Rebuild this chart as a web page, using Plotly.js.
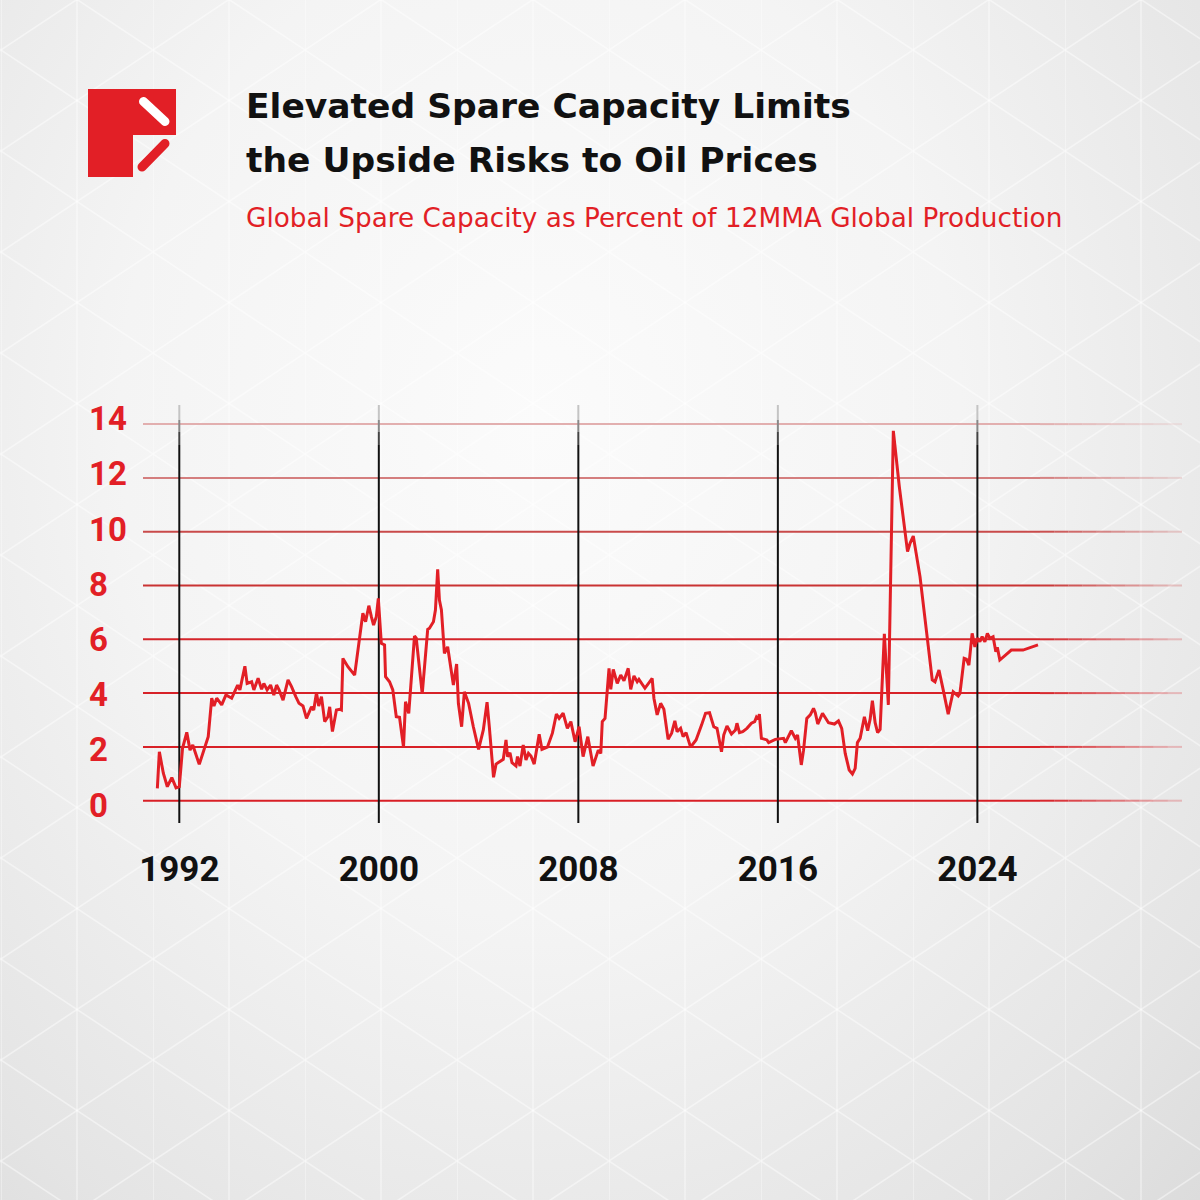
<!DOCTYPE html>
<html>
<head>
<meta charset="utf-8">
<script src="https://cdn.plot.ly/plotly-3.0.1.min.js"></script>
<style>
  html, body { margin: 0; padding: 0; }
  body {
    width: 1200px; height: 1200px; overflow: hidden;
    background-color: #efefef;
    background-image:
      url("data:image/svg+xml;utf8,%3Csvg xmlns='http://www.w3.org/2000/svg' width='152' height='101'%3E%3Cg stroke='%23ffffff' stroke-opacity='0.45' stroke-width='1.5' fill='none'%3E%3Cline x1='0' y1='0' x2='0' y2='101'/%3E%3Cline x1='76' y1='0' x2='76' y2='101'/%3E%3Cline x1='0' y1='0' x2='152' y2='101'/%3E%3Cline x1='0' y1='101' x2='152' y2='0'/%3E%3C/g%3E%3C/svg%3E"),
      radial-gradient(ellipse at 45% 35%, #fbfbfb 0%, #f4f4f4 45%, #e4e4e4 85%, #dcdcdc 100%);
    background-position: 1px 50px, 0 0;
    background-repeat: repeat, no-repeat;
  }
  #chart { width: 1200px; height: 1200px; }
</style>
</head>
<body>
<div id="chart"></div>
<script>
// ---------- DATA ----------
const years = [
  1991.12, 1991.2, 1991.36, 1991.52, 1991.7, 1991.87, 1992.0, 1992.13, 1992.3, 1992.43,
  1992.54, 1992.8, 1993.16, 1993.3, 1993.39, 1993.5, 1993.7, 1993.87, 1994.1, 1994.34,
  1994.43, 1994.63, 1994.72, 1994.9, 1994.99, 1995.16, 1995.3, 1995.39, 1995.52, 1995.66,
  1995.79, 1995.9, 1996.0, 1996.16, 1996.36, 1996.5, 1996.67, 1996.8, 1996.96, 1997.1,
  1997.3, 1997.39, 1997.5, 1997.59, 1997.7, 1997.83, 1997.96, 1998.03, 1998.14, 1998.3,
  1998.43, 1998.5, 1998.56, 1998.76, 1999.03, 1999.23, 1999.36, 1999.47, 1999.6, 1999.7,
  1999.79, 1999.9, 1999.98, 2000.1, 2000.23, 2000.27, 2000.43, 2000.56, 2000.7, 2000.83,
  2000.99, 2001.07, 2001.2, 2001.43, 2001.5, 2001.74, 2001.96, 2002.03, 2002.19, 2002.27,
  2002.36, 2002.43, 2002.51, 2002.63, 2002.76, 2002.99, 2003.12, 2003.19, 2003.32, 2003.43,
  2003.6, 2003.79, 2004.0, 2004.19, 2004.34, 2004.43, 2004.6, 2004.7, 2004.99, 2005.1,
  2005.16, 2005.26, 2005.34, 2005.5, 2005.56, 2005.66, 2005.79, 2005.9, 2006.0, 2006.1,
  2006.23, 2006.43, 2006.54, 2006.76, 2006.96, 2007.12, 2007.23, 2007.39, 2007.56, 2007.7,
  2007.87, 2008.03, 2008.19, 2008.38, 2008.59, 2008.8, 2008.9, 2008.96, 2009.07, 2009.23,
  2009.3, 2009.4, 2009.56, 2009.7, 2009.83, 2010.0, 2010.1, 2010.23, 2010.36, 2010.43,
  2010.67, 2010.96, 2011.03, 2011.16, 2011.3, 2011.43, 2011.6, 2011.74, 2011.87, 2011.96,
  2012.1, 2012.2, 2012.32, 2012.5, 2012.72, 2012.94, 2013.1, 2013.26, 2013.43, 2013.56,
  2013.74, 2013.83, 2013.96, 2014.14, 2014.3, 2014.36, 2014.46, 2014.59, 2014.76, 2014.94,
  2015.07, 2015.14, 2015.2, 2015.26, 2015.34, 2015.56, 2015.63, 2015.9, 2016.05, 2016.23,
  2016.3, 2016.54, 2016.7, 2016.79, 2016.94, 2017.03, 2017.16, 2017.3, 2017.43, 2017.5,
  2017.6, 2017.7, 2017.79, 2018.03, 2018.27, 2018.43, 2018.56, 2018.7, 2018.86, 2018.99,
  2019.1, 2019.19, 2019.3, 2019.47, 2019.6, 2019.7, 2019.79, 2019.9, 2020.0, 2020.1,
  2020.27, 2020.43, 2020.63, 2020.87, 2021.2, 2021.3, 2021.43, 2021.7, 2021.96, 2022.19,
  2022.3, 2022.46, 2022.63, 2022.83, 2022.94, 2023.03, 2023.23, 2023.3, 2023.47, 2023.56,
  2023.66, 2023.79, 2023.9, 2024.0, 2024.1, 2024.19, 2024.3, 2024.4, 2024.5, 2024.63,
  2024.74, 2024.8, 2024.9, 2025.36, 2025.83, 2026.43
];
const spare = [
  0.46, 1.82, 1.02, 0.52, 0.86, 0.48, 0.52, 1.95, 2.54, 1.88,
  2.07, 1.35, 2.38, 3.81, 3.52, 3.81, 3.56, 3.93, 3.81, 4.30,
  4.12, 5.00, 4.36, 4.42, 4.12, 4.55, 4.14, 4.36, 4.12, 4.30,
  3.93, 4.30, 4.12, 3.74, 4.49, 4.24, 3.87, 3.62, 3.52, 3.06,
  3.49, 3.37, 4.01, 3.52, 3.87, 2.94, 3.12, 3.49, 2.57, 3.37,
  3.40, 3.37, 5.29, 4.98, 4.67, 5.97, 6.97, 6.65, 7.25, 6.84,
  6.53, 6.84, 7.52, 5.85, 5.79, 4.61, 4.42, 4.12, 3.12, 3.10,
  1.99, 3.68, 3.25, 6.12, 6.04, 3.97, 6.37, 6.41, 6.65, 7.09,
  8.60, 7.46, 7.09, 5.48, 5.72, 4.30, 5.08, 3.62, 2.75, 4.05,
  3.62, 2.75, 1.91, 2.63, 3.66, 2.75, 0.87, 1.36, 1.54, 2.26,
  1.64, 1.78, 1.41, 1.29, 1.64, 1.29, 2.07, 1.51, 1.76, 1.66,
  1.36, 2.47, 1.91, 1.99, 2.51, 3.22, 3.06, 3.25, 2.69, 2.94,
  2.19, 2.75, 1.64, 2.38, 1.29, 1.88, 1.76, 2.94, 3.06, 4.92,
  4.14, 4.88, 4.36, 4.67, 4.46, 4.92, 4.14, 4.64, 4.42, 4.51,
  4.18, 4.55, 3.81, 3.19, 3.62, 3.40, 2.28, 2.51, 2.97, 2.57,
  2.69, 2.38, 2.53, 1.99, 2.26, 2.81, 3.25, 3.27, 2.75, 2.69,
  1.82, 2.44, 2.78, 2.48, 2.63, 2.88, 2.53, 2.57, 2.69, 2.88,
  2.94, 3.10, 3.03, 3.22, 2.32, 2.26, 2.16, 2.28, 2.30, 2.32,
  2.16, 2.60, 2.32, 2.44, 1.33, 1.88, 3.06, 3.19, 3.43, 3.27,
  2.85, 3.09, 3.25, 2.90, 2.85, 2.97, 2.69, 1.76, 1.14, 0.99,
  1.20, 2.16, 2.32, 3.12, 2.60, 3.03, 3.72, 2.90, 2.53, 2.65,
  6.20, 3.56, 13.75, 11.67, 9.26, 9.57, 9.84, 8.33, 6.35, 4.49,
  4.42, 4.86, 4.12, 3.22, 3.68, 4.05, 3.89, 3.99, 5.29, 5.26,
  5.04, 6.22, 5.72, 6.04, 5.91, 6.10, 5.91, 6.22, 6.04, 6.10,
  5.54, 5.70, 5.23, 5.60, 5.60, 5.79
];
const yTicks = [0, 2, 4, 6, 8, 10, 12, 14];
const xTicks = [1992, 2000, 2008, 2016, 2024];
const xTickLabels = ['1992', '2000', '2008', '2016', '2024'];
const titleLines = ['Elevated Spare Capacity Limits', 'the Upside Risks to Oil Prices'];
const subtitle = 'Global Spare Capacity as Percent of 12MMA Global Production';

// ---------- GEOMETRY / STYLE ----------
const L = 143, R = 1182, T = 405, B = 823;
const px2x = px => (px - L) / (R - L);
const py2y = py => (B - py) / (B - T);
const RED = '#e21f26';
const gridColors = {0:'#d81f26', 2:'#d82127', 4:'#d72228', 6:'#d4242a', 8:'#c93333', 10:'#c94a4a', 12:'#d47e7e', 14:'#e2afaf'};

const shapes = [];
// horizontal grid lines with fade to the right
yTicks.forEach(v => {
  const c = gridColors[v];
  shapes.push({type:'line', layer:'below', xref:'paper', yref:'y', x0:0, x1:px2x(1040), y0:v, y1:v,
               line:{color:c, width:2}});
  const nSeg = 10;
  for (let i = 0; i < nSeg; i++) {
    const a = px2x(1040 + i * (R - 1040) / nSeg), b = px2x(1040 + (i + 1) * (R - 1040) / nSeg);
    shapes.push({type:'line', layer:'below', xref:'paper', yref:'y', x0:a, x1:b, y0:v, y1:v,
                 opacity: 1 - (i + 0.5) / nSeg * 0.8, line:{color:c, width:2}});
  }
});
// vertical black lines at year ticks, fading at the top
xTicks.forEach(yr => {
  shapes.push({type:'line', layer:'below', xref:'x', yref:'paper', x0:yr, x1:yr, y0:0, y1:py2y(445),
               line:{color:'#111111', width:2}});
  const tops = [[445, 432, '#444444'], [432, 420, '#888888'], [420, 405, '#c4c4c4']];
  tops.forEach(t => shapes.push({type:'line', layer:'below', xref:'x', yref:'paper', x0:yr, x1:yr,
    y0:py2y(t[0]), y1:py2y(t[1]), line:{color:t[2], width:2}}));
});

const annotations = [];
yTicks.forEach(v => annotations.push({
  xref:'paper', yref:'y', x:px2x(87), y:v, xanchor:'left', yanchor:'middle', showarrow:false,
  yshift: -4.3 + 0.7 * v,
  text:String(v), font:{family:'Roboto, sans-serif', size:33, color:RED, weight:700}
}));
annotations.push({xref:'paper', yref:'paper', x:px2x(244), y:py2y(106), xanchor:'left', yanchor:'middle',
  showarrow:false, text:titleLines[0], font:{family:'DejaVu Sans, sans-serif', size:34.5, color:'#111111', weight:700}});
annotations.push({xref:'paper', yref:'paper', x:px2x(244), y:py2y(160), xanchor:'left', yanchor:'middle',
  showarrow:false, text:titleLines[1], font:{family:'DejaVu Sans, sans-serif', size:34.5, color:'#111111', weight:700}});
annotations.push({xref:'paper', yref:'paper', x:px2x(244), y:py2y(218), xanchor:'left', yanchor:'middle',
  showarrow:false, text:subtitle, font:{family:'DejaVu Sans, sans-serif', size:26.3, color:RED}});

// logo (decoration)
const logoSvg = "<svg xmlns='http://www.w3.org/2000/svg' width='88' height='88' viewBox='0 0 88 88'>" +
  "<path d='M0 0 H88 V46 H45 V88 H0 Z' fill='" + RED + "'/>" +
  "<line x1='55.5' y1='12.5' x2='77' y2='32.5' stroke='#ffffff' stroke-width='9' stroke-linecap='round'/>" +
  "<line x1='54' y1='78' x2='77' y2='54.5' stroke='" + RED + "' stroke-width='9' stroke-linecap='round'/>" +
  "</svg>";
const images = [{
  source: 'data:image/svg+xml;charset=utf-8,' + encodeURIComponent(logoSvg),
  xref:'paper', yref:'paper', x:px2x(88), y:py2y(89), sizex:88 / (R - L), sizey:88 / (B - T),
  xanchor:'left', yanchor:'top', sizing:'stretch', layer:'above'
}];

const trace = {
  type:'scatter', mode:'lines', x:years, y:spare,
  line:{color:RED, width:3}, hoverinfo:'x+y', showlegend:false
};

const layout = {
  width:1200, height:1200,
  margin:{l:L, r:1200 - R, t:T, b:1200 - B, pad:0},
  paper_bgcolor:'rgba(0,0,0,0)', plot_bgcolor:'rgba(0,0,0,0)',
  showlegend:false,
  xaxis:{
    type:'linear', range:[1992 - (179.3 - L) / 24.94, 1992 - (179.3 - L) / 24.94 + (R - L) / 24.94],
    tickmode:'array', tickvals:xTicks, ticktext:xTickLabels,
    showgrid:false, zeroline:false, showline:false, ticks:'', ticklabelstandoff:22,
    tickfont:{family:'Roboto, sans-serif', size:35, color:'#111111', weight:700}, fixedrange:true
  },
  yaxis:{
    range:[-(B - 800.7) / 26.9, (800.7 - T) / 26.9],
    tickmode:'array', tickvals:yTicks, showticklabels:false,
    showgrid:false, zeroline:false, showline:false, ticks:'', fixedrange:true
  },
  shapes:shapes, annotations:annotations, images:images
};

Plotly.newPlot('chart', [trace], layout, {displayModeBar:false, staticPlot:true});
</script>
</body>
</html>
